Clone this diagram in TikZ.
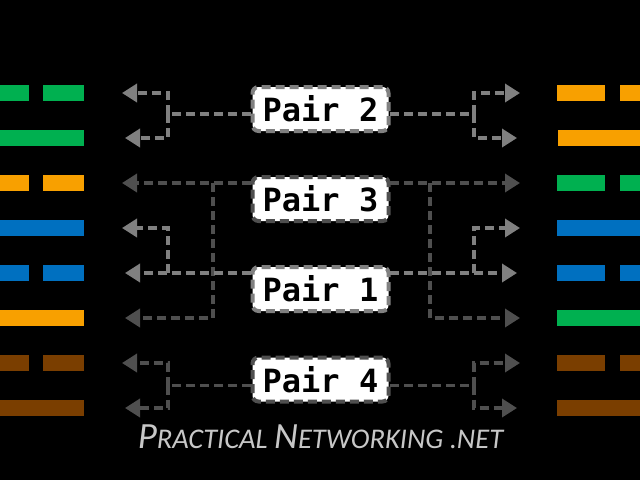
\documentclass[tikz,border=0pt]{standalone}
\usepackage{fontspec}
\setmonofont{DejaVu Sans Mono}
\newfontfamily\markfont{Carlito}
\usetikzlibrary{arrows.meta}
\definecolor{wiregreen}{HTML}{00B050}
\definecolor{wireorange}{HTML}{F8A000}
\definecolor{wireblue}{HTML}{0070C0}
\definecolor{wirebrown}{HTML}{7A3E00}
\definecolor{lightdash}{gray}{0.5}
\definecolor{darkdash}{gray}{0.31}
\newcommand{\brandcap}[1]{{\fontsize{37}{37}\selectfont #1}}
\tikzset{
    pairbox/.style={fill=white,rounded corners=6pt,line width=4pt,dash pattern=on 9pt off 5pt,minimum width=136pt,minimum height=44pt,inner sep=0pt,outer sep=0pt,font=\ttfamily\bfseries\fontsize{32}{32}\selectfont},
    pairline/.style={line width=3.5pt,dash pattern=on 9pt off 5pt},
    pairtip/.style={pairline,-{Triangle[length=15pt,width=18pt]}},
}
\begin{document}
\begin{tikzpicture}[x=1pt,y=-1pt]
    \useasboundingbox (0,0) rectangle (640,480);
    \fill[black] (0,0) rectangle (640,480);

    % left wires
    \fill[wiregreen] (0,85) rectangle (29,101);
    \fill[wiregreen] (43,85) rectangle (84,101);
    \fill[wiregreen] (0,130) rectangle (84,146);
    \fill[wireorange] (0,175) rectangle (29,191);
    \fill[wireorange] (43,175) rectangle (84,191);
    \fill[wireblue] (0,220) rectangle (84,236);
    \fill[wireblue] (0,265) rectangle (29,281);
    \fill[wireblue] (43,265) rectangle (84,281);
    \fill[wireorange] (0,310) rectangle (84,326);
    \fill[wirebrown] (0,355) rectangle (29,371);
    \fill[wirebrown] (43,355) rectangle (84,371);
    \fill[wirebrown] (0,400) rectangle (84,416);

    % right wires
    \fill[wireorange] (557,85) rectangle (605,101);
    \fill[wireorange] (620,85) rectangle (640,101);
    \fill[wireorange] (558,130) rectangle (640,146);
    \fill[wiregreen] (557,175) rectangle (605,191);
    \fill[wiregreen] (620,175) rectangle (640,191);
    \fill[wireblue] (557,220) rectangle (640,236);
    \fill[wireblue] (557,265) rectangle (605,281);
    \fill[wireblue] (620,265) rectangle (640,281);
    \fill[wiregreen] (557,310) rectangle (640,326);
    \fill[wirebrown] (557,355) rectangle (605,371);
    \fill[wirebrown] (620,355) rectangle (640,371);
    \fill[wirebrown] (557,400) rectangle (640,416);

    \node (pair2) [pairbox,draw=lightdash] at (320.5,109) {Pair 2};
    \node (pair3) [pairbox,draw=darkdash] at (320.5,199) {Pair 3};
    \node (pair1) [pairbox,draw=lightdash] at (320.5,289) {Pair 1};
    \node (pair4) [pairbox,draw=darkdash] at (320.5,379.5) {Pair 4};

    % arrow ends
    \coordinate (l1) at (122,93);
    \coordinate (l2) at (125,138);
    \coordinate (l3) at (122,183);
    \coordinate (l4) at (122,228);
    \coordinate (l5) at (125,273);
    \coordinate (l6) at (125,318);
    \coordinate (l7) at (122,363);
    \coordinate (l8) at (125,408);
    \coordinate (r1) at (520,93);
    \coordinate (r2) at (517,138);
    \coordinate (r3) at (520,183);
    \coordinate (r4) at (520,228);
    \coordinate (r5) at (517,273);
    \coordinate (r6) at (520,318);
    \coordinate (r7) at (520,363);
    \coordinate (r8) at (517,408);

    % forks
    \coordinate (fork2l) at (168,114);
    \coordinate (fork2r) at (474,114);
    \coordinate (fork3l) at (213,183);
    \coordinate (fork3r) at (430,183);
    \coordinate (fork1l) at (168,273);
    \coordinate (fork1r) at (474,273);
    \coordinate (fork4l) at (168,385.5);
    \coordinate (fork4r) at (474,385.5);
    \coordinate (start2l) at (251,114);
    \coordinate (start2r) at (390,114);
    \coordinate (start3l) at (251,183);
    \coordinate (start3r) at (390,183);
    \coordinate (start1l) at (251,273);
    \coordinate (start1r) at (390,273);
    \coordinate (start4l) at (251,385.5);
    \coordinate (start4r) at (390,385.5);

    % pair 3
    \draw[pairtip,darkdash] (start3l) -- (l3);
    \draw[pairtip,darkdash] (start3r) -- (r3);
    \draw[pairtip,darkdash] (fork3l) |- (l6);
    \draw[pairtip,darkdash] (fork3r) |- (r6);

    % pair 2
    \draw[pairline,lightdash] (start2l) -- (fork2l);
    \draw[pairline,lightdash] (start2r) -- (fork2r);
    \draw[pairtip,lightdash] (fork2l) |- (l1);
    \draw[pairtip,lightdash] (fork2l) |- (l2);
    \draw[pairtip,lightdash] (fork2r) |- (r1);
    \draw[pairtip,lightdash] (fork2r) |- (r2);

    % pair 1
    \draw[pairtip,lightdash] (start1l) -- (l5);
    \draw[pairtip,lightdash] (start1r) -- (r5);
    \draw[pairtip,lightdash] (fork1l) |- (l4);
    \draw[pairtip,lightdash] (fork1r) |- (r4);

    % pair 4
    \draw[pairline,darkdash] (start4l) -- (fork4l);
    \draw[pairline,darkdash] (start4r) -- (fork4r);
    \draw[pairtip,darkdash] (fork4l) |- (l7);
    \draw[pairtip,darkdash] (fork4l) |- (l8);
    \draw[pairtip,darkdash] (fork4r) |- (r7);
    \draw[pairtip,darkdash] (fork4r) |- (r8);

    \node (brand) [text=black!22!white,font=\markfont\itshape\fontsize{28.5}{28.5}\selectfont] at (320.5,437) {\brandcap{P}RACTICAL \brandcap{N}ETWORKING .NET};
\end{tikzpicture}
\end{document}
